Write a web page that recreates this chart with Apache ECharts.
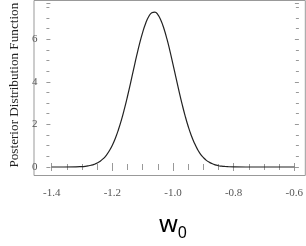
<!DOCTYPE html>
<html><head><meta charset="utf-8">
<script src="https://cdn.jsdelivr.net/npm/echarts@6/dist/echarts.min.js"></script>
<style>html,body{margin:0;padding:0;background:#fff}#c{width:306px;height:246px}</style>
</head><body><div id="c"></div>
<script>
var wValues = [-1.40,-1.36,-1.32,-1.30,-1.29,-1.28,-1.27,-1.26,-1.25,-1.24,-1.23,-1.22,-1.21,-1.20,-1.19,-1.18,-1.17,-1.16,-1.15,-1.14,-1.13,-1.12,-1.11,-1.10,-1.09,-1.08,-1.07,-1.06,-1.05,-1.04,-1.03,-1.02,-1.01,-1.00,-0.99,-0.98,-0.97,-0.96,-0.95,-0.94,-0.93,-0.92,-0.91,-0.90,-0.89,-0.88,-0.87,-0.86,-0.85,-0.84,-0.83,-0.82,-0.80,-0.76,-0.72,-0.68,-0.64,-0.60];
var pdfValues = [0,0,0.005,0.02,0.032,0.052,0.081,0.124,0.185,0.27,0.39,0.55,0.76,1.02,1.35,1.75,2.21,2.74,3.32,3.94,4.58,5.21,5.80,6.32,6.75,7.06,7.24,7.27,7.15,6.89,6.50,6.01,5.44,4.82,4.18,3.55,2.95,2.40,1.91,1.49,1.14,0.85,0.62,0.45,0.31,0.22,0.15,0.10,0.06,0.04,0.025,0.015,0.005,0,0,0,0,0];
var xTicks = {min: -1.4, max: -0.6, step: 0.2};
var yTicks = {min: 0, max: 7.68, step: 2};

var data = wValues.map(function(w, i){ return [w, pdfValues[i]]; });
var lab = {fontFamily: 'Liberation Serif', fontSize: 11, color: '#555'};
var tickStyle = {show: true, inside: true, length: 4, lineStyle: {color: '#999', width: 1}};
var minorStyle = {show: true, splitNumber: 4, length: 3, lineStyle: {color: '#999', width: 1}};

var chart = echarts.init(document.getElementById('c'), null, {renderer: 'canvas'});
chart.setOption({
  animation: false,
  grid: [
    {left: 34, right: 0.7, top: 0.5, bottom: 70.5, show: true, borderColor: '#999', borderWidth: 1, backgroundColor: 'transparent'},
    {left: 39.3, right: 5.3, top: 0.5, bottom: 78.5}
  ],
  xAxis: [
    {gridIndex: 0, type: 'value', show: false, min: 0, max: 1},
    {gridIndex: 1, type: 'value', position: 'bottom', offset: 8, min: xTicks.min, max: xTicks.max, interval: xTicks.step,
     axisLine: {show: false}, axisTick: tickStyle, minorTick: minorStyle, splitLine: {show: false},
     axisLabel: Object.assign({margin: 13, formatter: function(v){ return v.toFixed(1); }}, lab),
     name: '{w|w}{s|0}', nameLocation: 'middle', nameGap: 38,
     nameTextStyle: {rich: {w: {fontFamily: 'Noto Sans', fontSize: 24, color: '#000', verticalAlign: 'bottom'}, s: {fontFamily: 'Noto Sans', fontSize: 16, color: '#000', verticalAlign: 'bottom', padding: [0,0,-4,0]}}}},
    {gridIndex: 1, type: 'value', position: 'top', offset: 0, min: xTicks.min, max: xTicks.max, interval: xTicks.step,
     axisLine: {show: false}, axisTick: tickStyle, minorTick: minorStyle, splitLine: {show: false}, axisLabel: {show: false}}
  ],
  yAxis: [
    {gridIndex: 0, type: 'value', show: false, min: 0, max: 1},
    {gridIndex: 1, type: 'value', position: 'left', offset: 5.3, min: yTicks.min, max: yTicks.max, interval: yTicks.step,
     axisLine: {show: false}, axisTick: tickStyle, minorTick: minorStyle, splitLine: {show: false},
     axisLabel: Object.assign({margin: 9, showMaxLabel: false}, lab),
     name: 'Posterior Distribution Function', nameLocation: 'middle', nameGap: 20, nameRotate: 90,
     nameTextStyle: {fontFamily: 'Liberation Serif', fontSize: 13.2, color: '#222'}},
    {gridIndex: 1, type: 'value', position: 'right', offset: 4.6, min: yTicks.min, max: yTicks.max, interval: yTicks.step,
     axisLine: {show: false}, axisTick: tickStyle, minorTick: minorStyle, splitLine: {show: false}, axisLabel: {show: false}}
  ],
  series: [{
    type: 'line', xAxisIndex: 1, yAxisIndex: 1, data: data, smooth: true, showSymbol: false, clip: false,
    lineStyle: {color: '#222', width: 1.2}
  }]
});
</script></body></html>
